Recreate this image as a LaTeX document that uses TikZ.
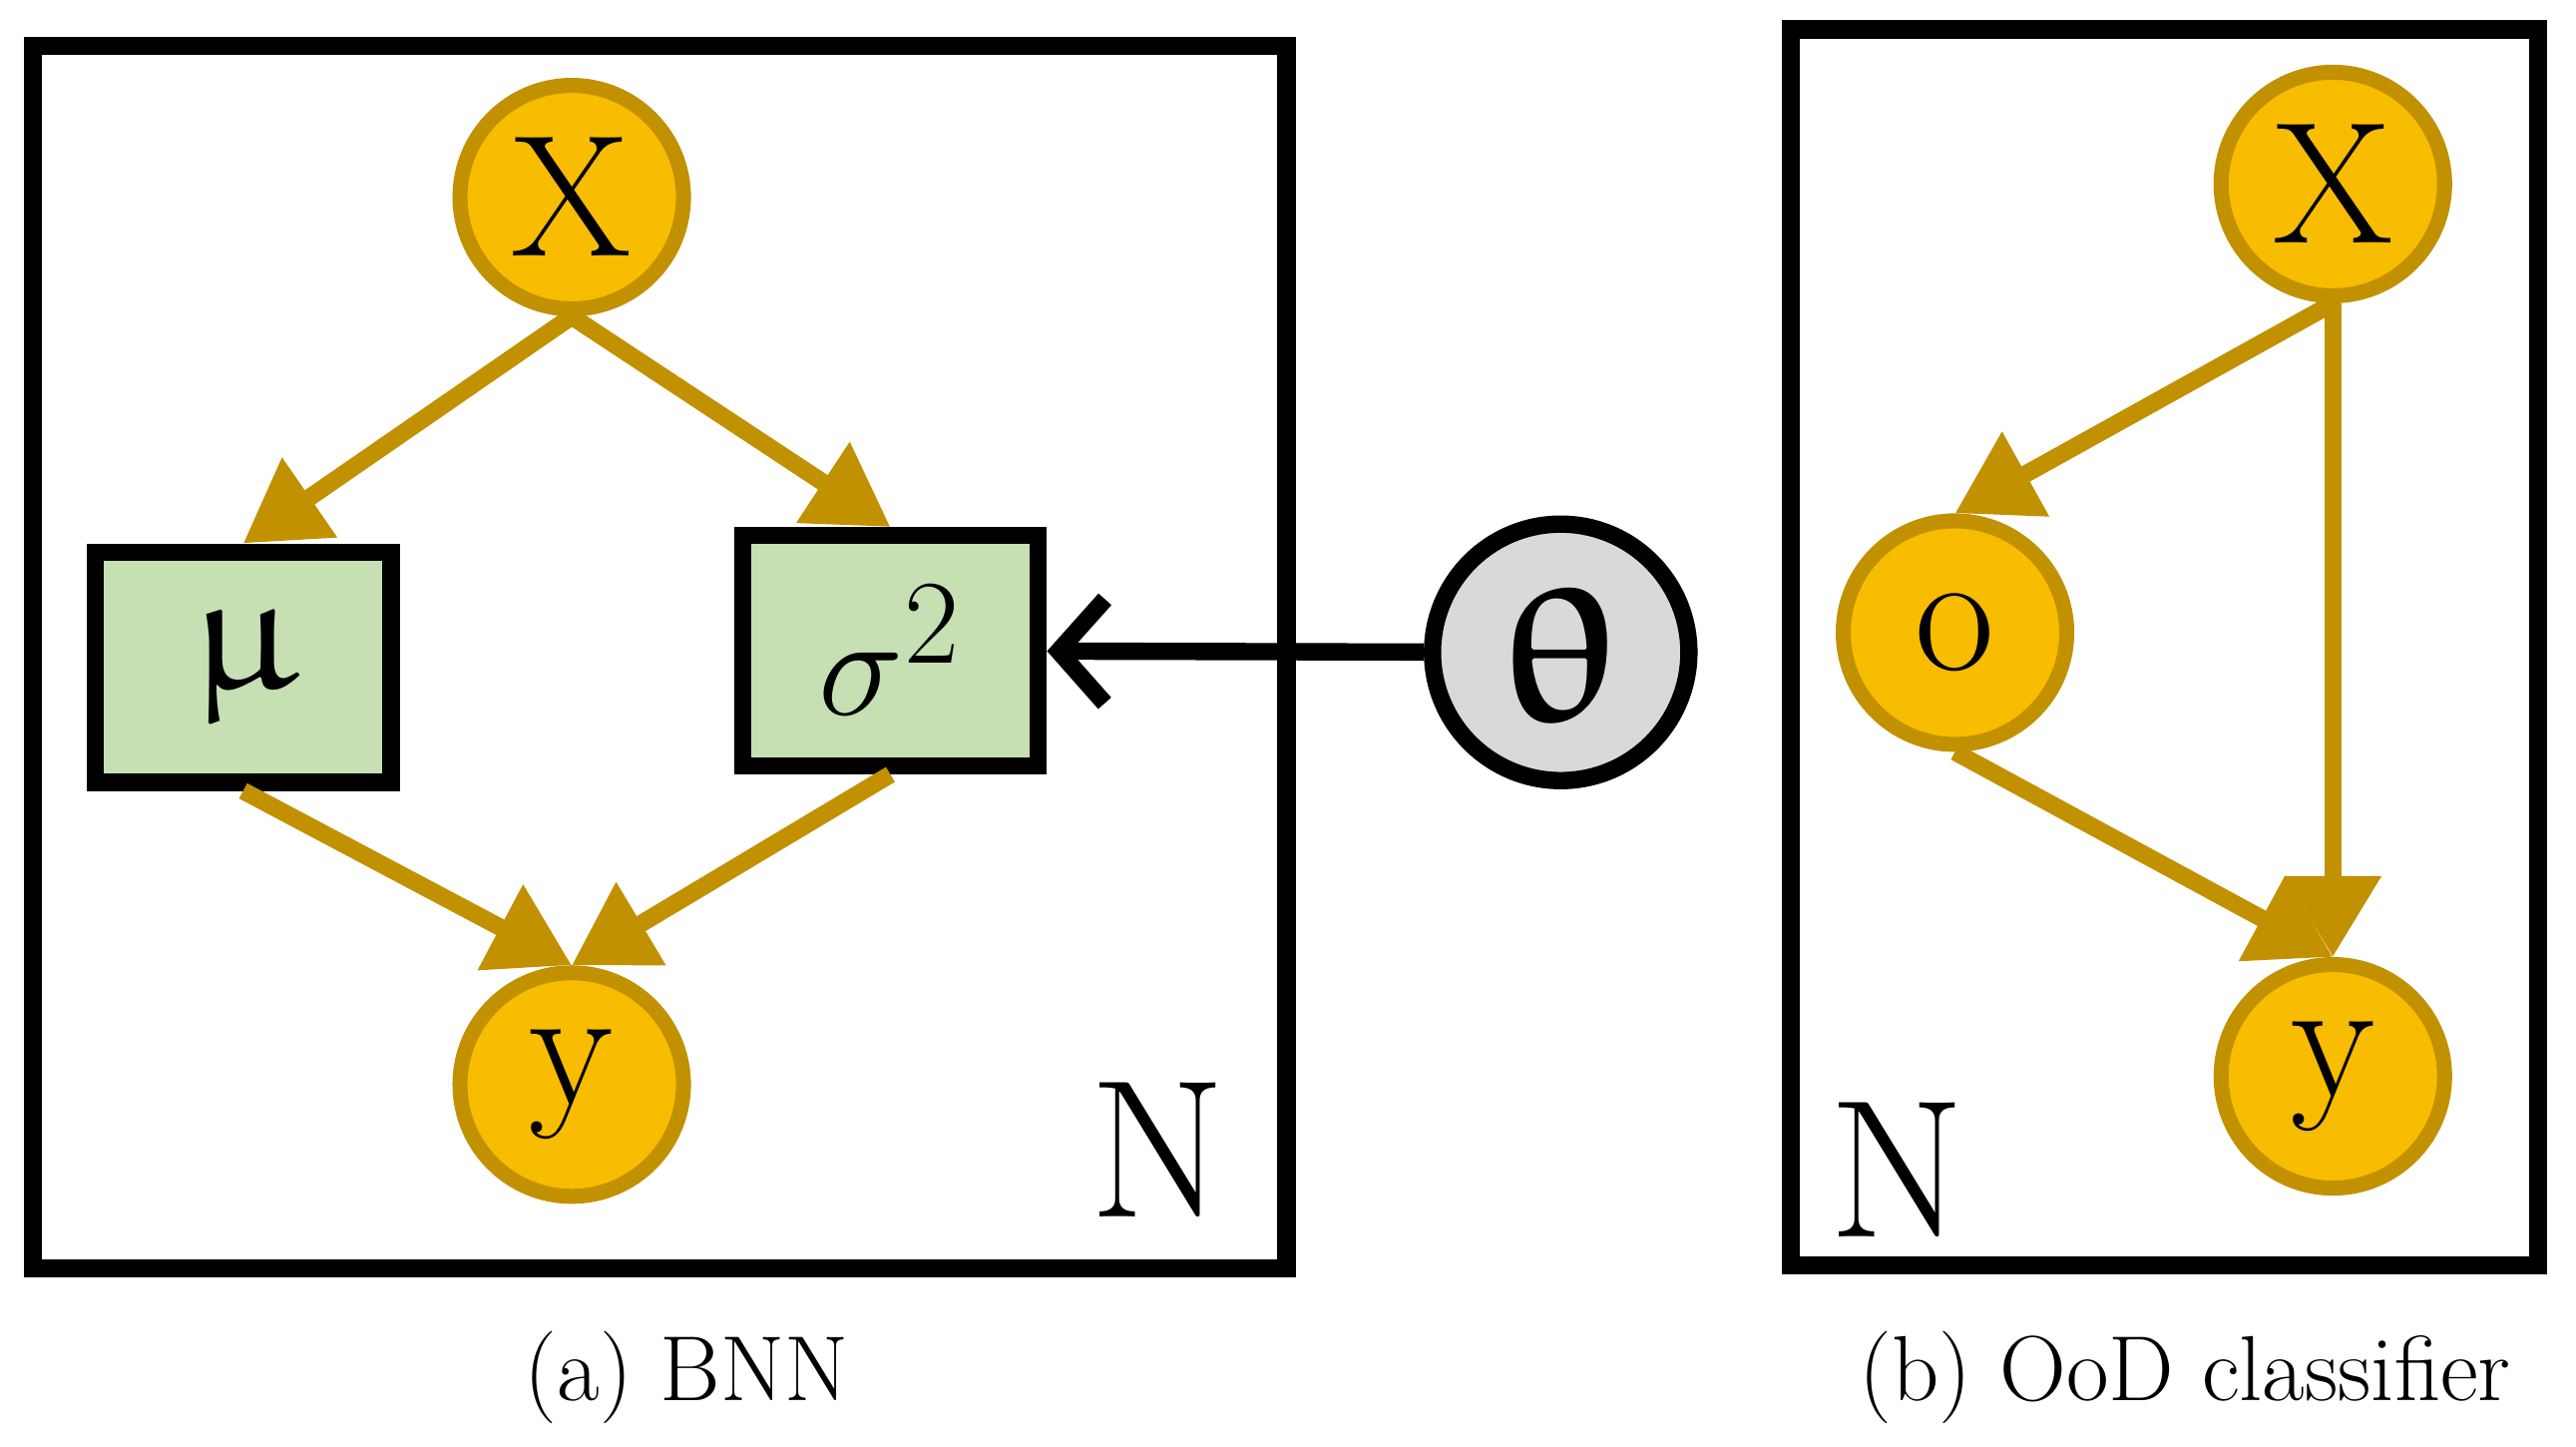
\documentclass[tikz,border=0pt]{standalone}
\usepackage{tikz}
\usepackage{upgreek,bm}
\usetikzlibrary{arrows.meta,positioning}
\definecolor{gold}{HTML}{F8BC00}
\definecolor{goldline}{HTML}{C29100}
\definecolor{boxgreen}{HTML}{C6E0B4}
\definecolor{thetagray}{HTML}{D9D9D9}
\tikzset{
  basic/.style  = {draw, line width=2.6pt, inner sep=0pt},
  rv/.style     = {basic, circle, minimum size=1.36cm, fill=gold, draw=goldline,
                   font=\fontsize{30}{32}\selectfont},
  det/.style    = {basic, rectangle, line width=3pt, fill=boxgreen, minimum width=1.8cm,
                   minimum height=1.4cm, font=\fontsize{30}{32}\selectfont},
  param/.style  = {basic, circle, minimum size=1.56cm, fill=thetagray, draw=black,
                   line width=3pt, font=\fontsize{34}{36}\selectfont},
  plate/.style  = {draw, line width=3.2pt},
  edge/.style   = {draw=goldline, line width=3pt, -{Triangle[length=14pt,width=16pt]}},
  caption/.style= {font=\fontsize{16}{18}\selectfont}
}
\begin{document}
\begin{tikzpicture}[x=0.01cm,y=-0.01cm]
\useasboundingbox (0,0) rectangle (1568,880);

% plates
\draw[plate] (20,28) rectangle (783,772);
\draw[plate] (1090,18) rectangle (1545,770);
\node[font=\fontsize{34}{36}\selectfont] (n1) at (705,700) {N};
\node[font=\fontsize{34}{36}\selectfont] (n2) at (1155,712) {N};

% (a) BNN
\node[rv] (x1) at (348,120) {X};
\node[det] (mu) at (148,406) {$\upmu$};
\node[det] (sig) at (542,396) {$\sigma^2$};
\node[rv] (y1) at (348,660) {y};
\node[param] (theta) at (950,397) {$\bm{\uptheta}$};

\draw[edge] (x1.south) -- (mu.north);
\draw[edge] (x1.south) -- (sig.north);
\draw[edge] (mu.south) -- (y1.north);
\draw[edge] (sig.south) -- (y1.north);
\draw[line width=3pt, -{Straight Barb[length=8pt,width=18pt]}] (theta) -- (sig);

% (b) OoD classifier
\node[rv] (x2) at (1420,112) {X};
\node[rv] (o) at (1190,385) {o};
\node[rv] (y2) at (1420,655) {y};

\draw[edge] (x2.south) -- (o.north);
\draw[edge] (x2.south) -- (y2.north);
\draw[edge] (o.south) -- (y2.north);

% captions
\node[caption] (ca) at (418,838) {(a) BNN};
\node[caption] (cb) at (1330,838) {(b) OoD classifier};
\end{tikzpicture}
\end{document}
